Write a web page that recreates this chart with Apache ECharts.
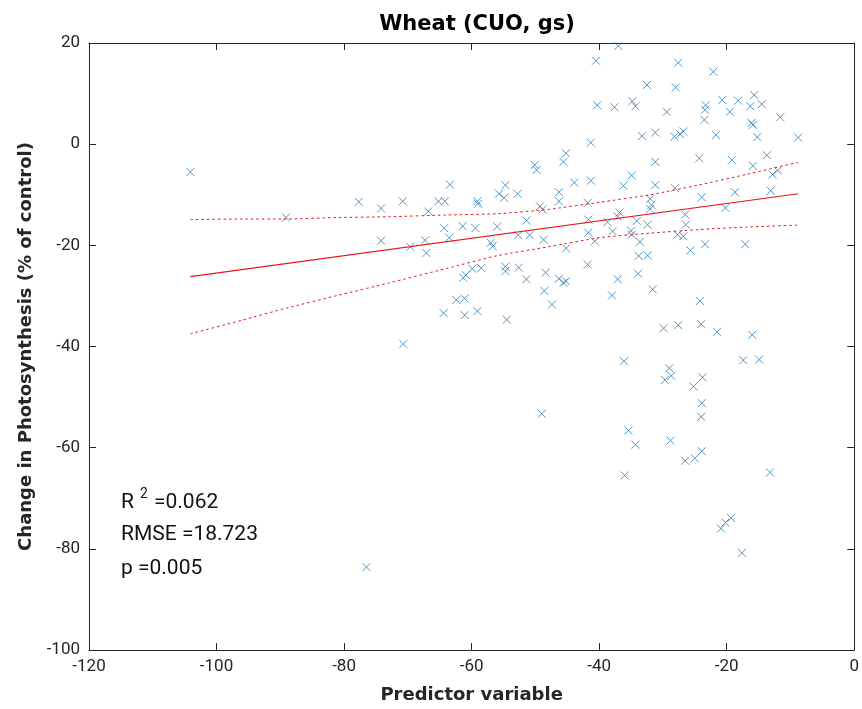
<!DOCTYPE html>
<html>
<head>
<meta charset="utf-8">
<title>Wheat (CUO, gs)</title>
<script src="https://cdn.jsdelivr.net/npm/echarts@6/dist/echarts.min.js"></script>
<style>
  html, body { margin: 0; padding: 0; background: #fff; }
  #main { width: 862px; height: 709px; }
</style>
</head>
<body>
<div id="main"></div>
<script>
// scatter points
const predictor = [
    -104.1, -89.1, -77.7, -74.2, -70.8, -66.8, -65.2, -64.2, -63.4, -64.3,
    -61.4, -74.2, -69.6, -67.3, -67.1, -63.5, -61.3, -62.4, -61.1, -64.4,
    -61.1, -70.7, -76.5, -59.4, -59.1, -59.0, -59.9, -58.5, -60.9, -59.1,
    -57.0, -56.7, -56.0, -55.7, -54.9, -54.7, -54.7, -54.7, -54.5, -52.8,
    -52.7, -52.6, -51.4, -51.4, -50.9, -50.1, -49.8, -49.3, -48.9, -48.7,
    -48.6, -48.4, -47.4, -46.3, -46.3, -46.3, -45.6, -45.2, -45.2, -45.6,
    -45.2, -43.9, -41.8, -41.7, -41.7, -41.8, -41.3, -41.3, -40.7, -40.5,
    -40.3, -38.7, -38.0, -37.9, -37.6, -37.1, -37.1, -37.0, -36.8, -36.2,
    -34.9, -35.0, -34.9, -34.8, -34.3, -34.1, -33.9, -33.8, -33.6, -33.3,
    -32.5, -32.4, -32.4, -31.6, -32.0, -31.8, -32.0, -31.2, -31.2, -31.2,
    -27.6, -22.1, -28.0, -20.7, -18.2, -15.7, -16.3, -14.5, -23.3, -23.4,
    -23.5, -19.5, -29.4, -11.6, -16.1, -15.9, -28.2, -27.3, -26.8, -21.7,
    -15.2, -8.8, -24.3, -19.2, -13.7, -15.9, -12.8, -12.0, -28.1, -23.9,
    -18.7, -13.1, -20.2, -26.5, -26.4, -27.7, -26.8, -25.7, -23.4, -17.1,
    -24.2, -29.9, -27.6, -24.0, -21.5, -16.0, -36.1, -29.0, -28.7, -29.7,
    -25.2, -49.0, -35.4, -34.3, -28.8, -26.5, -25.0, -36.0, -17.4, -14.9,
    -23.8, -23.9, -24.0, -23.9, -13.2, -19.3, -20.2, -20.9, -17.6
];
const photoChange = [
    -5.5, -14.5, -11.4, -12.7, -11.3, -13.3, -11.3, -11.3, -8.0, -16.6,
    -16.2, -19.1, -20.3, -19.0, -21.5, -18.5, -26.4, -30.8, -30.5, -33.4,
    -33.8, -39.5, -83.6, -16.6, -11.3, -11.8, -24.6, -24.5, -25.9, -33.0,
    -19.5, -20.2, -16.3, -9.8, -10.6, -8.1, -24.2, -25.1, -34.7, -9.8,
    -18.0, -24.4, -15.1, -26.7, -18.0, -4.1, -5.1, -12.3, -12.9, -18.9,
    -29.0, -25.4, -31.7, -9.5, -11.3, -26.6, -27.4, -27.1, -1.8, -3.5,
    -20.6, -7.6, -11.6, -14.9, -17.5, -23.8, 0.3, -7.2, -19.2, 16.5,
    7.7, -15.4, -29.9, -17.2, 7.3, -14.3, -26.7, 19.4, -13.5, -8.2,
    -6.2, -17.1, -17.9, 8.5, 7.5, -15.2, -25.6, -22.1, -19.3, 1.6,
    11.7, -15.9, -22.0, -28.7, -10.8, -12.0, -12.8, 2.3, -3.5, -8.1,
    16.1, 14.3, 11.2, 8.7, 8.6, 9.7, 7.5, 7.9, 7.7, 6.8,
    4.8, 6.4, 6.4, 5.3, 4.2, 3.8, 1.5, 2.0, 2.5, 1.8,
    1.4, 1.3, -2.8, -3.1, -2.2, -4.3, -6.0, -5.2, -8.7, -10.5,
    -9.5, -9.2, -12.6, -13.9, -15.9, -17.9, -18.2, -21.0, -19.8, -19.8,
    -31.0, -36.4, -35.8, -35.6, -37.1, -37.7, -42.9, -44.3, -45.8, -46.6,
    -47.9, -53.3, -56.6, -59.4, -58.6, -62.6, -62.1, -65.5, -42.7, -42.6,
    -46.1, -51.2, -53.9, -60.7, -64.9, -73.9, -74.8, -76.0, -80.8
];

// fitted line and its confidence bounds, read at a few x positions
const fitX = [-104.1, -8.8];
const fitY = [-26.2, -9.8];
const ciX = [-104.1, -96, -89, -81, -73, -64, -56, -48, -40, -32, -24.5, -17, -8.8];
const ciUpper = [-14.9, -14.8, -14.8, -14.5, -14.35, -14.0, -13.75, -12.9, -11.5, -10.0, -8.1, -6.0, -3.6];
const ciLower = [-37.5, -34.8, -32.4, -29.9, -27.45, -24.6, -22.05, -20.3, -18.5, -17.6, -16.9, -16.4, -16.0];

const statLines = ['=0.062', 'RMSE =18.723', 'p =0.005'];

const ink = '#262626';
const red = '#e8141c';
const blue = '#2a7db5';

const zip = (xs, ys) => xs.map((x, i) => [x, ys[i]]);

const chart = echarts.init(document.getElementById('main'));

const axisCommon = {
    type: 'value',
    axisLine: { onZero: false, lineStyle: { color: ink, width: 1 } },
    axisTick: { inside: true, length: 7, lineStyle: { color: ink } },
    splitLine: { show: false }
};
const nameStyle = { fontFamily: 'DejaVu Sans', fontWeight: 'bold', fontSize: 18, color: ink };
const labelStyle = { color: ink, fontFamily: 'Roboto', fontSize: 17, showMinLabel: true, showMaxLabel: true };

option = {
    animation: false,
    backgroundColor: '#fff',
    title: {
        text: 'Wheat (CUO, gs)',
        left: 472,
        textAlign: 'center',
        top: 9,
        textStyle: { fontFamily: 'DejaVu Sans', fontWeight: 'bold', fontSize: 21, color: '#000' }
    },
    grid: { left: 89, top: 43, right: 6, bottom: 58 },
    xAxis: [
        Object.assign({}, axisCommon, {
            position: 'bottom', min: -120, max: 0, interval: 20,
            axisLabel: Object.assign({ margin: 8 }, labelStyle),
            name: 'Predictor variable', nameLocation: 'middle', nameGap: 36,
            nameTextStyle: nameStyle
        }),
        Object.assign({}, axisCommon, {
            position: 'top', min: -120, max: 0, interval: 20,
            axisLabel: { show: false }
        })
    ],
    yAxis: [
        Object.assign({}, axisCommon, {
            position: 'left', min: -100, max: 20, interval: 20,
            axisLabel: Object.assign({ margin: 9 }, labelStyle),
            name: 'Change in Photosynthesis (% of control)', nameLocation: 'middle', nameGap: 52,
            nameTextStyle: nameStyle
        }),
        Object.assign({}, axisCommon, {
            position: 'right', min: -100, max: 20, interval: 20,
            axisLabel: { show: false }
        })
    ],
    series: [
        {
            type: 'scatter',
            data: zip(predictor, photoChange),
            symbol: 'path://M0,0L10,10M10,0L0,10',
            symbolSize: 8,
            itemStyle: { color: 'rgba(0,0,0,0)', borderColor: blue, borderWidth: 1 },
            emphasis: { disabled: true },
            z: 3
        },
        {
            type: 'line',
            data: zip(fitX, fitY),
            showSymbol: false,
            lineStyle: { color: red, width: 1.2 },
            emphasis: { disabled: true },
            z: 4
        },
        {
            type: 'line',
            data: zip(ciX, ciUpper),
            showSymbol: false,
            smooth: 0.2,
            lineStyle: { color: red, width: 1, type: [2.5, 3] },
            emphasis: { disabled: true },
            z: 4
        },
        {
            type: 'line',
            data: zip(ciX, ciLower),
            showSymbol: false,
            smooth: 0.2,
            lineStyle: { color: red, width: 1, type: [2.5, 3] },
            emphasis: { disabled: true },
            z: 4
        }
    ],
    graphic: [
        { type: 'text', x: 121, y: 503, style: { text: 'R', fontFamily: 'Roboto', fontSize: 21, fill: '#111', verticalAlign: 'middle' } },
        { type: 'text', x: 140, y: 494, style: { text: '2', fontFamily: 'Roboto', fontSize: 14, fill: '#111', verticalAlign: 'middle' } },
        { type: 'text', x: 154, y: 503, style: { text: statLines[0], fontFamily: 'Roboto', fontSize: 21, fill: '#111', verticalAlign: 'middle' } },
        { type: 'text', x: 121, y: 535, style: { text: statLines[1], fontFamily: 'Roboto', fontSize: 21, fill: '#111', verticalAlign: 'middle' } },
        { type: 'text', x: 121, y: 569, style: { text: statLines[2], fontFamily: 'Roboto', fontSize: 21, fill: '#111', verticalAlign: 'middle' } }
    ]
};

chart.setOption(option);
</script>
</body>
</html>
